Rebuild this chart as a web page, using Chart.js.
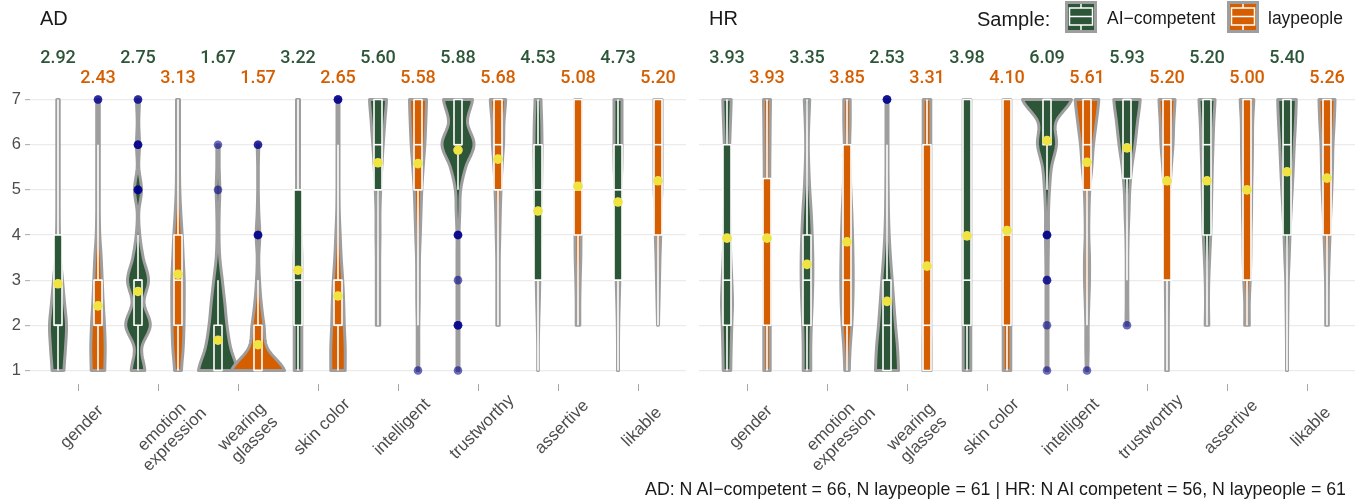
<!DOCTYPE html>
<html>
<head>
<meta charset="utf-8">
<script src="https://cdn.jsdelivr.net/npm/chart.js@4.4.1/dist/chart.umd.min.js"></script>
<style>
  body { margin: 0; background: #fff; width: 1369px; height: 504px; position: relative; overflow: hidden;
         font-family: "Liberation Sans", Arial, sans-serif; color: #1a1a1a; }
  canvas { position: absolute; top: 0; }
  #adCanvas { left: 0; }
  #hrCanvas { left: 692px; }
  .txt { position: absolute; white-space: nowrap; }
  .title { font-size: 20px; line-height: 20px; top: 8px; }
  .key { position: absolute; top: 1px; }
</style>
</head>
<body>
<canvas id="adCanvas" width="692" height="504"></canvas>
<canvas id="hrCanvas" width="677" height="504"></canvas>
<div class="txt title" style="left:40px">AD</div>
<div class="txt title" style="left:709px">HR</div>
<div class="txt" style="left:977px;top:9px;font-size:20px;line-height:20px">Sample:</div>
<svg class="key" style="left:1065px" width="32" height="32">
  <rect x="0" y="0" width="32" height="32" fill="#9e9e9e"/>
  <rect x="3" y="3" width="26" height="26" fill="#2d5638"/>
  <line x1="16" y1="3" x2="16" y2="7" stroke="#fff" stroke-width="1.5"/>
  <line x1="16" y1="24" x2="16" y2="29" stroke="#fff" stroke-width="1.5"/>
  <rect x="4.5" y="7" width="23" height="17" fill="none" stroke="#fff" stroke-width="1.5"/>
  <line x1="4.5" y1="15.5" x2="27.5" y2="15.5" stroke="#fff" stroke-width="1.5"/>
</svg>
<div class="txt" style="left:1107px;top:10px;font-size:17.5px;line-height:17.5px">AI−competent</div>
<svg class="key" style="left:1227px" width="32" height="32">
  <rect x="0" y="0" width="32" height="32" fill="#9e9e9e"/>
  <rect x="3" y="3" width="26" height="26" fill="#d55e00"/>
  <line x1="16" y1="3" x2="16" y2="7" stroke="#fff" stroke-width="1.5"/>
  <line x1="16" y1="24" x2="16" y2="29" stroke="#fff" stroke-width="1.5"/>
  <rect x="4.5" y="7" width="23" height="17" fill="none" stroke="#fff" stroke-width="1.5"/>
  <line x1="4.5" y1="15.5" x2="27.5" y2="15.5" stroke="#fff" stroke-width="1.5"/>
</svg>
<div class="txt" style="left:1268px;top:10px;font-size:17.5px;line-height:17.5px">laypeople</div>
<div class="txt" style="right:23px;top:480px;font-size:17.8px;line-height:18px">AD: N AI−competent = 66, N laypeople = 61 | HR: N AI competent = 56, N laypeople = 61</div>

<script>
// categories and axis
const categories = ['gender', ['emotion', 'expression'], ['wearing', 'glasses'], 'skin color',
                    'intelligent', 'trustworthy', 'assertive', 'likable'];
const sampleNames = ['AI−competent', 'laypeople'];
const yTicks = [1, 2, 3, 4, 5, 6, 7];
// rating levels at which the violin half-widths were read
const densityLevels = [1, 1.5, 2, 2.5, 3, 3.5, 4, 4.5, 5, 5.5, 6, 6.5, 7];

// means (labels above each violin)
const adMeansAI  = [2.92, 2.75, 1.67, 3.22, 5.60, 5.88, 4.53, 4.73];
const adMeansLay = [2.43, 3.13, 1.57, 2.65, 5.58, 5.68, 5.08, 5.20];
const hrMeansAI  = [3.93, 3.35, 2.53, 3.98, 6.09, 5.93, 5.20, 5.40];
const hrMeansLay = [3.93, 3.85, 3.31, 4.10, 5.61, 5.20, 5.00, 5.26];

// boxplots: [lower whisker, q1, median, q3, upper whisker]
const adBoxAI  = [[1,2,2,4,7], [1,2,3,3,4], [1,1,1,2,3], [1,2,3,5,7], [2,5,6,7,7], [5,6,6,7,7], [1,3,5,6,7], [1,3,5,6,7]];
const adBoxLay = [[1,2,2,3,6], [1,2,3,4,7], [1,1,1,2,3], [1,2,2,3,6], [2,5,6,7,7], [2,5,6,7,7], [2,4,5,7,7], [2,4,6,7,7]];
const hrBoxAI  = [[1,2,3,6,7], [1,2,3,4,7], [1,1,2,3,6], [1,2,3,7,7], [5,6,7,7,7], [3,5.25,7,7,7], [2,4,6,7,7], [1,4,6,7,7]];
const hrBoxLay = [[1,2,4,5.25,7], [1,2,3,6,7], [1,1,2,6,7], [1,2,4,7,7], [2,5,6,7,7], [1,3,6,7,7], [2,3,5,7,7], [2,4,6,7,7]];

// outliers (repeated values = overlapping points)
const adOutliersAI  = [[], [7,7,6,6,6,5,5,5], [6,5], [], [], [4,4,4,3,2,2,2,1], [], []];
const adOutliersLay = [[7,7], [], [6,6,4,4,4], [7,7,7], [1], [], [], []];
const hrOutliersAI  = [[], [], [7,7,7], [], [4,4,4,3,3,2,1], [2], [], []];
const hrOutliersLay = [[], [], [], [], [1], [], [], []];

// violin half-widths at densityLevels (null = outside the data range)
const adDensityAI = [
  [6, 7.5, 8.5, 6.5, 4.5, 2.5, 1.5, 1.2, 1.2, 1.2, 1.2, 1.2, 1.2],
  [6.8, 3.8, 12.3, 6, 10.5, 5.2, 1.8, 0.8, 3.5, 0.8, 1.5, 0.8, 1.5],
  [19.5, 12.7, 9, 6.8, 4.3, 1.8, 1, 1.2, 1.8, 1.2, 1.2, null, null],
  [3.8, 3.8, 3.8, 3.8, 3.8, 3.8, 3.2, 2.3, 1.5, 1.5, 1.5, 1.5, 1.5],
  [null, null, 1.7, 1.7, 1.7, 1.7, 2, 2, 2.7, 3.8, 5.2, 6.8, 8.5],
  [1, 1, 1, 1, 1, 1, 1, 1.8, 2.7, 7.7, 16, 9.5, 14.5],
  [0.3, 0.3, 0.7, 1.3, 1.8, 2.3, 3, 3, 3.5, 3.8, 4, 3.7, 3],
  [0.5, 0.5, 0.7, 1.2, 1.8, 2, 2.3, 2.7, 3, 3.8, 4, 4, 4]
];
const adDensityLay = [
  [6.8, 7.2, 6.5, 5.2, 4.2, 3.2, 1.8, 1.3, 1.3, 1.3, 1.3, 1.3, 1.3],
  [3.5, 5.2, 6, 6.2, 6.2, 5.2, 4.2, 2.8, 1.8, 1.5, 1.5, 1.5, 1.5],
  [26.5, 9.3, 6, 3.2, 1.5, 0.8, 1.8, 0.8, 0.3, 0.3, 0.8, null, null],
  [7.2, 7.2, 6.3, 5.7, 4.7, 3.2, 2.2, 1.3, 1, 1, 1, 1, 1],
  [0.8, 0.8, 0.8, 1.2, 1.3, 1.5, 2.3, 3, 3.8, 5.2, 6.8, 7.8, 8.5],
  [null, null, 1.2, 1.2, 1.2, 1.3, 1.8, 2.3, 3, 4, 5.5, 6, 7.7],
  [null, null, 1.8, 1.8, 2.2, 2.8, 3, 3.2, 3.2, 3.2, 3.2, 3.2, 3.2],
  [null, null, 0.5, 1, 1.5, 2, 2.7, 3, 3.8, 4, 4, 4, 4]
];
const hrDensityAI = [
  [3.8, 4.2, 4.8, 5.5, 4.8, 3.8, 3.2, 2.7, 2.3, 2.3, 2.7, 3.5, 4.2],
  [3.8, 3.8, 4.3, 5.2, 5.8, 5.8, 5.2, 4.2, 2.8, 1.8, 1.3, 1.8, 2.7],
  [11.5, 10.5, 8.5, 6.8, 5.2, 3.5, 2.2, 1.5, 1.2, 1, 1, 1, 1],
  [3.8, 3.8, 3.8, 3.8, 3.8, 3.8, 3.8, 3.8, 3.8, 3.8, 3.8, 3.8, 3.8],
  [1, 1, 1, 1, 1, 1.2, 1.5, 1.5, 2.5, 4.5, 9.5, 9, 24.5],
  [null, null, 1, 0.8, 0.8, 0.8, 1.2, 2, 2.8, 4.8, 8, 10.5, 13.2],
  [null, null, 1.8, 1.5, 1.8, 2.7, 3.7, 4.3, 4.8, 5.3, 6, 6.8, 8],
  [0.5, 0.5, 0.7, 1, 1.3, 2.2, 3, 4, 5.2, 6.3, 7.3, 8.5, 9.3]
];
const hrDensityLay = [
  [3.2, 3.2, 3.2, 3.2, 3.2, 3, 3, 3, 2.8, 2.8, 3, 3.2, 3.5],
  [2.3, 3.2, 4.8, 5.8, 6.2, 6, 5.5, 4.8, 3.8, 3.2, 2.7, 3.2, 3.2],
  [4, 4, 3.8, 3.8, 3.8, 3.8, 3.8, 3.8, 3.8, 3.8, 3.8, 3.8, 3.8],
  [3.8, 3.8, 3.8, 3.8, 3.8, 3.8, 3.8, 3.8, 3.8, 3.8, 3.8, 3.8, 3.8],
  [0.8, 1.2, 1.2, 1.8, 2.5, 2.5, 1.8, 2, 2.8, 4.8, 6.5, 9.3, 11.8],
  [1.3, 1.3, 1.3, 1.5, 1.7, 1.7, 1.8, 2.2, 3, 4.3, 6, 6.8, 8],
  [null, null, 2.3, 2.3, 3.2, 3.8, 4, 4.5, 4.7, 5.2, 5.5, 5.7, 6.8],
  [null, null, 1.3, 1.3, 1.5, 2.2, 3, 3.8, 4.8, 5.5, 6, 7.2, 8]
];

const GREEN = '#2d5638';
const ORANGE = '#d55e00';
const sampleColors = [GREEN, ORANGE];
const dodge = [-0.25, 0.25];
const densityToX = 1 / 80;   // density units -> category units
const boxHalf = 0.05;

function catmull(p0, p1, p2, p3, t) {
  return 0.5 * (2 * p1 + (-p0 + p2) * t + (2 * p0 - 5 * p1 + 4 * p2 - p3) * t * t +
                (-p0 + 3 * p1 - 3 * p2 + p3) * t * t * t);
}

function drawViolin(ctx, xs, ys, cx, widths, color) {
  const lv = [], wv = [];
  densityLevels.forEach((l, k) => { if (widths[k] != null) { lv.push(l); wv.push(widths[k]); } });
  const x0 = xs.getPixelForValue(cx);
  const pts = [];
  const steps = 12;
  for (let k = 0; k < lv.length; k++) {
    const n = k < lv.length - 1 ? steps : 1;
    for (let s = 0; s < n; s++) {
      const t = s / steps;
      let w = wv[k];
      if (k < lv.length - 1) {
        w = catmull(wv[Math.max(k - 1, 0)], wv[k], wv[k + 1], wv[Math.min(k + 2, wv.length - 1)], t);
      }
      w = Math.max(w, 0.3);
      const y = lv[k] + t * ((lv[k + 1] || lv[k]) - lv[k]);
      const dx = xs.getPixelForValue(cx + w * densityToX) - x0;
      pts.push([dx, ys.getPixelForValue(y)]);
    }
  }
  ctx.beginPath();
  pts.forEach((p, i) => i ? ctx.lineTo(x0 + p[0], p[1]) : ctx.moveTo(x0 + p[0], p[1]));
  for (let i = pts.length - 1; i >= 0; i--) ctx.lineTo(x0 - pts[i][0], pts[i][1]);
  ctx.closePath();
  ctx.fillStyle = color;
  ctx.fill();
  ctx.lineWidth = 3;
  ctx.lineJoin = 'round';
  ctx.strokeStyle = '#9e9e9e';
  ctx.stroke();
}

function drawBox(ctx, xs, ys, cx, b, color) {
  const [lo, q1, med, q3, hi] = b;
  const xl = xs.getPixelForValue(cx - boxHalf), xr = xs.getPixelForValue(cx + boxHalf);
  const xc = xs.getPixelForValue(cx);
  ctx.strokeStyle = '#fff';
  ctx.lineWidth = 1.6;
  ctx.beginPath();
  ctx.moveTo(xc, ys.getPixelForValue(lo)); ctx.lineTo(xc, ys.getPixelForValue(q1));
  ctx.moveTo(xc, ys.getPixelForValue(q3)); ctx.lineTo(xc, ys.getPixelForValue(hi));
  ctx.stroke();
  const yt = ys.getPixelForValue(q3), yb = ys.getPixelForValue(q1);
  ctx.fillStyle = color;
  ctx.fillRect(xl, yt, xr - xl, yb - yt);
  ctx.strokeRect(xl, yt, xr - xl, yb - yt);
  ctx.beginPath();
  const ym = ys.getPixelForValue(med);
  ctx.moveTo(xl, ym); ctx.lineTo(xr, ym);
  ctx.stroke();
}

function buildPanel(canvasId, means, boxes, densities, outliers, showY) {
  const meanPoints = [], outlierPoints = [];
  for (let s = 0; s < 2; s++) {
    categories.forEach((c, i) => {
      meanPoints.push({ x: i + 1 + dodge[s], y: means[s][i] });
      outliers[s][i].forEach(v => outlierPoints.push({ x: i + 1 + dodge[s], y: v }));
    });
  }

  const violinPlugin = {
    id: 'violins',
    beforeDatasetsDraw(chart) {
      const ctx = chart.ctx, xs = chart.scales.x, ys = chart.scales.y;
      ctx.save();
      categories.forEach((c, i) => {
        for (let s = 0; s < 2; s++) {
          drawViolin(ctx, xs, ys, i + 1 + dodge[s], densities[s][i], sampleColors[s]);
          drawBox(ctx, xs, ys, i + 1 + dodge[s], boxes[s][i], sampleColors[s]);
        }
      });
      ctx.restore();
    },
    afterDraw(chart) {
      const ctx = chart.ctx, xs = chart.scales.x;
      ctx.save();
      // mean labels
      ctx.font = '500 18px Roboto';
      ctx.textAlign = 'center';
      ctx.textBaseline = 'middle';
      const labelY = [58.5, 78.5];
      for (let s = 0; s < 2; s++) {
        ctx.fillStyle = sampleColors[s];
        means[s].forEach((m, i) => ctx.fillText(m.toFixed(2), xs.getPixelForValue(i + 1 + dodge[s]), labelY[s]));
      }
      // rotated category labels
      const fs = 17, lh = 18;
      ctx.font = fs + 'px "Liberation Sans"';
      ctx.fillStyle = '#4d4d4d';
      categories.forEach((c, i) => {
        const lines = Array.isArray(c) ? c : [c];
        const h = fs + (lines.length - 1) * lh;
        const off = 0.7071 * h / 2;
        const tx = xs.getPixelForValue(i + 1);
        ctx.save();
        ctx.translate(tx - 2 + off, 421 + off);
        ctx.rotate(-Math.PI / 4);
        lines.forEach((ln, j) => ctx.fillText(ln, 0, (j - (lines.length - 1) / 2) * lh));
        ctx.restore();
      });
      ctx.restore();
    }
  };

  return new Chart(document.getElementById(canvasId), {
    type: 'scatter',
    data: {
      datasets: [
        { label: 'mean', data: meanPoints, order: 0, pointRadius: 4.8, pointBorderWidth: 0,
          backgroundColor: '#f0e442', clip: false },
        { label: 'outliers', data: outlierPoints, order: 1, pointRadius: 4.3, pointBorderWidth: 0,
          backgroundColor: 'rgba(0,0,139,0.58)', clip: false }
      ]
    },
    options: {
      responsive: false,
      animation: false,
      layout: { padding: showY ? { top: 86, right: 6, left: 0, bottom: 0 } : { top: 86, right: 14, left: 7, bottom: 0 } },
      plugins: { legend: { display: false }, tooltip: { enabled: false } },
      scales: {
        x: {
          type: 'linear', min: 0.4, max: 8.6,
          afterBuildTicks: s => { s.ticks = categories.map((c, i) => ({ value: i + 1 })); },
          afterFit: s => { s.height = 120; },
          ticks: { display: false },
          grid: { display: true, drawOnChartArea: false, drawTicks: true, tickLength: 7, tickColor: '#a8a8a8', tickWidth: 1 },
          border: { display: false }
        },
        y: {
          type: 'linear', min: 0.7, max: 7.3,
          afterBuildTicks: s => { s.ticks = yTicks.map(v => ({ value: v })); },
          afterFit: s => { s.width = showY ? 30 : 0; },
          ticks: { display: showY, padding: 4, color: '#4d4d4d', font: { family: 'Liberation Sans', size: 16.5 } },
          grid: { color: '#ebebeb', lineWidth: 1.3, drawTicks: showY, tickLength: 5, tickColor: '#a8a8a8', tickWidth: 1 },
          border: { display: false }
        }
      }
    },
    plugins: [violinPlugin]
  });
}

buildPanel('adCanvas', [adMeansAI, adMeansLay], [adBoxAI, adBoxLay], [adDensityAI, adDensityLay],
           [adOutliersAI, adOutliersLay], true);
buildPanel('hrCanvas', [hrMeansAI, hrMeansLay], [hrBoxAI, hrBoxLay], [hrDensityAI, hrDensityLay],
           [hrOutliersAI, hrOutliersLay], false);
</script>
</body>
</html>
